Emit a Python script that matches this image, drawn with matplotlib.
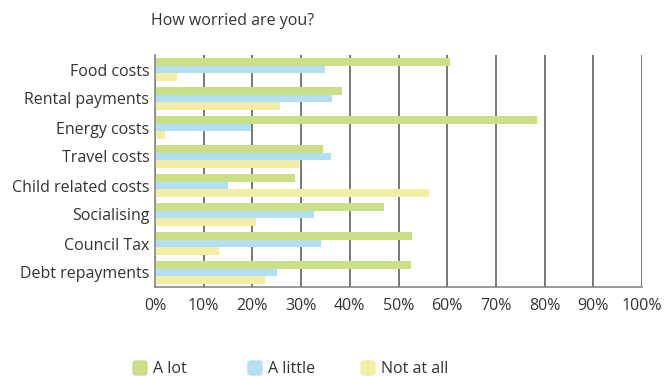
import matplotlib.pyplot as plt
from matplotlib.patches import FancyBboxPatch
import numpy as np

plt.rcParams['font.family'] = ['Open Sans', 'DejaVu Sans']

# datos (porcentaje)
categorias = ["Food costs", "Rental payments", "Energy costs", "Travel costs",
              "Child related costs", "Socialising", "Council Tax", "Debt repayments"]
a_lot = [60.6, 38.4, 78.5, 34.5, 28.8, 47.0, 52.8, 52.6]
a_little = [34.9, 36.3, 19.7, 36.2, 15.0, 32.7, 34.1, 25.1]
not_at_all = [4.5, 25.7, 2.1, 29.6, 56.2, 20.7, 13.1, 22.6]
series = ["A lot", "A little", "Not at all"]
colores = ["#cbe086", "#b3dff5", "#f2eea5"]

fig = plt.figure(figsize=(6.71, 3.76), dpi=100)
ax = fig.add_axes([155 / 671, 1 - 287 / 376, (642 - 155) / 671, (287 - 55) / 376])

y = np.arange(len(categorias))
h = 0.27
for k, (vals, col) in enumerate(zip([a_lot, a_little, not_at_all], colores)):
    ax.barh(y + (k - 1) * h, vals, height=h, color=col, label=series[k], zorder=2)

ax.set_xlim(0, 100)
ax.set_ylim(len(categorias) - 0.5, -0.5)
ax.set_xticks(range(0, 101, 10))
ax.set_xticklabels([f"{v}%" for v in range(0, 101, 10)])
ax.set_yticks(y)
ax.set_yticklabels(categorias)
ax.tick_params(length=0, labelsize=11.5, colors="#333333")
ax.tick_params(axis="y", pad=4)
ax.tick_params(axis="x", pad=8)
ax.xaxis.grid(True, color="#555555", linewidth=1.1, zorder=1)
for s in ["top", "right"]:
    ax.spines[s].set_visible(False)
for s in ["left", "bottom"]:
    ax.spines[s].set_color("#888888")
    ax.spines[s].set_linewidth(1.2)

fig.text(151 / 671, 1 - 21 / 376, "How worried are you?", fontsize=11.5,
         color="#333333", va="center")

# leyenda manual
posiciones = [133, 248, 361]
for x0, nombre, col in zip(posiciones, series, colores):
    fig.patches.append(FancyBboxPatch((x0 / 671, 1 - 375 / 376), 14 / 671, 14 / 376,
                                      boxstyle="round,pad=0,rounding_size=0.005",
                                      transform=fig.transFigure, color=col))
    fig.text((x0 + 20) / 671, 1 - 369 / 376, nombre, fontsize=11.5,
             color="#333333", va="center")

fig.savefig("out.png", dpi=100)
